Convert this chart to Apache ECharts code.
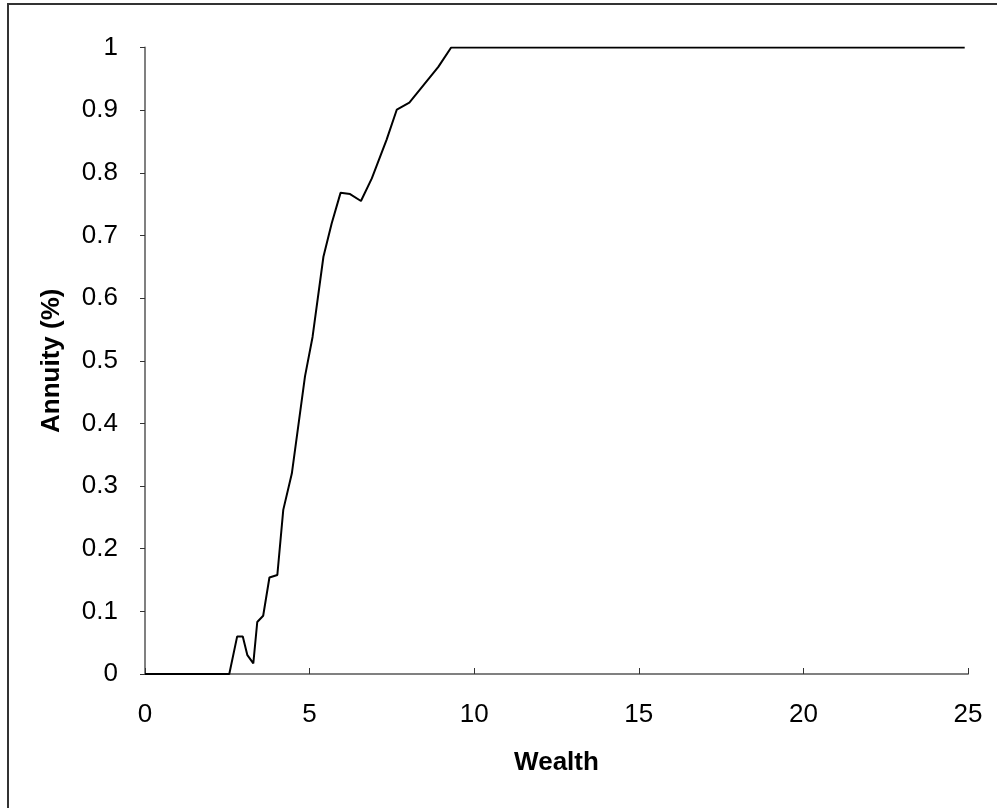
<!DOCTYPE html>
<html>
<head>
<meta charset="utf-8">
<title>Annuity vs Wealth</title>
<script src="https://cdn.jsdelivr.net/npm/echarts@6/dist/echarts.min.js"></script>
<style>
  html, body { margin: 0; padding: 0; background: #fff; }
  #chart { width: 997px; height: 808px; }
</style>
</head>
<body>
<div id="chart"></div>
<script>
  // values
  const wealth = [0, 2.56, 2.80, 2.97, 3.11, 3.29, 3.41, 3.59, 3.78, 4.02, 4.20, 4.46,
    4.86, 5.09, 5.42, 5.67, 5.94, 6.23, 6.56, 6.89, 7.34, 7.65, 8.03, 8.91, 9.30, 24.9];
  const annuity = [0, 0, 0.060, 0.060, 0.030, 0.017, 0.083, 0.093, 0.154, 0.158, 0.262, 0.320,
    0.475, 0.538, 0.666, 0.719, 0.768, 0.766, 0.755, 0.791, 0.853, 0.901, 0.912, 0.969, 1, 1];
  const xTicks = [0, 5, 10, 15, 20, 25];
  const yTicks = ['0', '0.1', '0.2', '0.3', '0.4', '0.5', '0.6', '0.7', '0.8', '0.9', '1'];

  const points = wealth.map((w, i) => [w, annuity[i]]);
  const font = 'Liberation Sans, Arial, sans-serif';

  const chart = echarts.init(document.getElementById('chart'));
  chart.setOption({
    animation: false,
    backgroundColor: '#fff',
    graphic: [{
      type: 'rect',
      shape: {x: 8, y: 4, width: 1200, height: 1000},
      style: {fill: 'none', stroke: '#333', lineWidth: 2},
      silent: true,
    }],
    grid: {left: 145, right: 29, top: 47.5, bottom: 134},
    xAxis: {
      type: 'value',
      min: 0,
      max: 25,
      interval: 5,
      name: 'Wealth',
      nameLocation: 'middle',
      nameGap: 76,
      nameTextStyle: {fontFamily: font, fontSize: 26, fontWeight: 'bold', color: '#000'},
      axisLine: {onZero: false, lineStyle: {color: '#808080', width: 2}},
      axisTick: {show: true, inside: true, length: 6, lineStyle: {color: '#333'}},
      axisLabel: {
        margin: 28, fontFamily: font, fontSize: 26, color: '#000',
        formatter: v => xTicks.includes(v) ? String(v) : '',
      },
      splitLine: {show: false},
    },
    yAxis: {
      type: 'value',
      min: 0,
      max: 1,
      interval: 0.1,
      name: 'Annuity (%)',
      nameLocation: 'middle',
      nameGap: 80,
      nameRotate: 90,
      nameTextStyle: {fontFamily: font, fontSize: 26, fontWeight: 'bold', color: '#000'},
      axisLine: {show: true, lineStyle: {color: '#808080', width: 2}},
      axisTick: {show: true, inside: false, length: 5, lineStyle: {color: '#333'}},
      axisLabel: {
        margin: 27, fontFamily: font, fontSize: 26, color: '#000',
        formatter: v => yTicks[Math.round(v * 10)],
      },
      splitLine: {show: false},
    },
    series: [{
      type: 'line',
      data: points,
      showSymbol: false,
      lineStyle: {color: '#000', width: 2},
    }],
  });
</script>
</body>
</html>
